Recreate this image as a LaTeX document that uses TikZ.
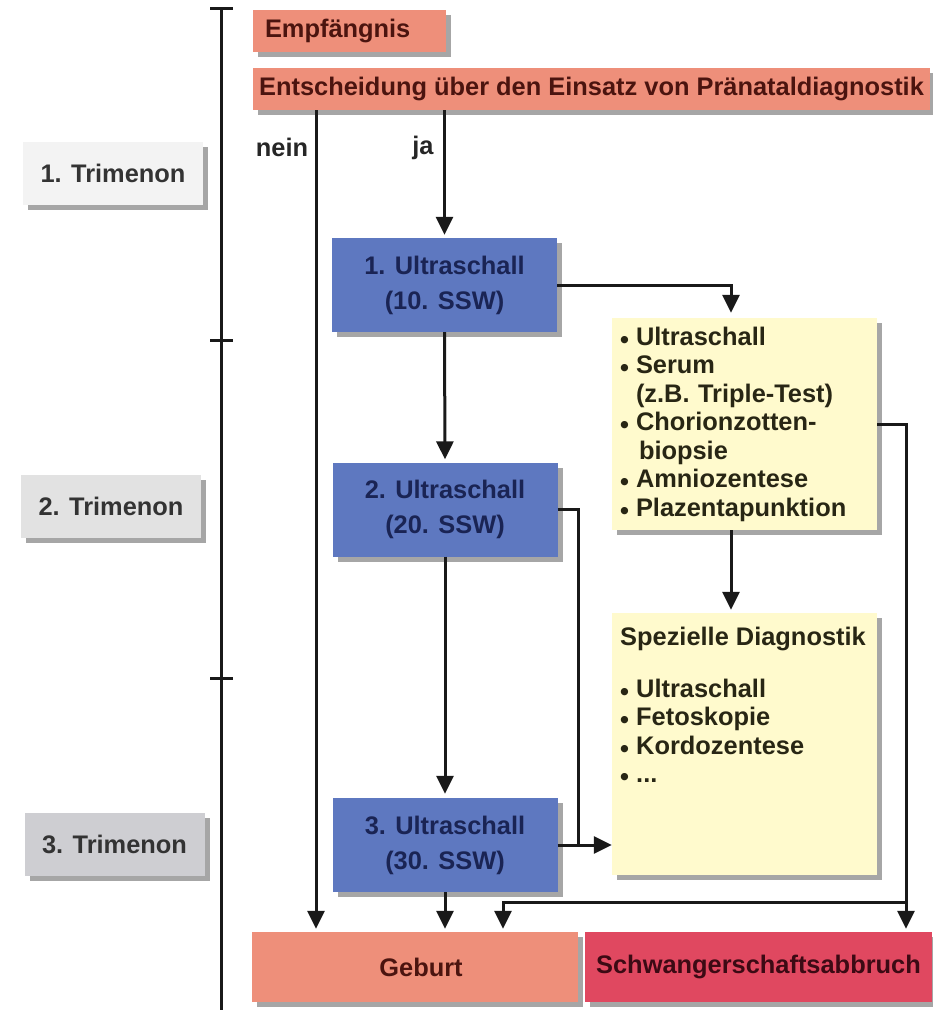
\documentclass[tikz,border=0pt]{standalone}
\usepackage{fontspec}
\usepackage{graphicx}
\setmainfont{Liberation Sans}
\usetikzlibrary{arrows.meta,shadows,calc}
\definecolor{salmon}{RGB}{238,143,122}
\definecolor{salmontext}{RGB}{75,20,15}
\definecolor{crimson}{RGB}{224,72,96}
\definecolor{crimsontext}{RGB}{60,10,20}
\definecolor{ublue}{RGB}{94,120,192}
\definecolor{ubluetext}{RGB}{26,36,84}
\definecolor{ylw}{RGB}{255,250,205}
\definecolor{ylwtext}{RGB}{40,38,20}
\definecolor{tri1}{RGB}{243,243,243}
\definecolor{tri2}{RGB}{226,226,226}
\definecolor{tri3}{RGB}{206,206,210}
\definecolor{linec}{RGB}{25,25,25}
\newcommand\bul{\makebox[16pt][l]{\raisebox{-3pt}{\scalebox{1.0}{\textbullet}}}}
\newcommand\ind{\hspace*{16pt}}
\newcommand\fs{\fontsize{25.4}{28.5}\selectfont\bfseries}
\newcommand\fsu{\fontsize{25.4}{35}\selectfont\bfseries}
\begin{document}
\begin{tikzpicture}[x=1pt,y=-1pt,
  base/.style={inner sep=0pt, align=center, font=\fs,
    drop shadow={shadow xshift=5pt,shadow yshift=-5pt,opacity=0.35,fill=black}},
  salmonbox/.style={base, fill=salmon, text=salmontext},
  abbbox/.style={base, fill=crimson, text=crimsontext},
  ubox/.style={base, fill=ublue, text=ubluetext, font=\fsu, minimum width=225pt, minimum height=94pt},
  tribox/.style={base, text=black!80, minimum width=180pt, minimum height=63pt},
  ybox/.style={base, fill=ylw, text=ylwtext, minimum width=265pt},
  lab/.style={inner sep=0pt, font=\fs, text=black!85},
  conn/.style={draw=linec, line width=3pt},
  arr/.style={conn, -{Triangle[length=18pt,width=17pt]}},
  tl/.style={draw=linec, line width=3pt}
]
\useasboundingbox (0,0) rectangle (933,1010);

% timeline
\coordinate (tltop) at (221,8);
\coordinate (tlbot) at (221,1010);
\draw[tl] (tltop) -- (tlbot);
\draw[tl] (210,8) -- (233,8);
\draw[tl] (210,340) -- (233,340);
\draw[tl] (210,678) -- (233,678);

% trimenon labels
\node[tribox, fill=tri1] (t1) at (113,173.5) {1. Trimenon};
\node[tribox, fill=tri2] (t2) at (111,506.5) {2. Trimenon};
\node[tribox, fill=tri3] (t3) at (114.5,844.5) {3. Trimenon};

% top boxes
\node[salmonbox, minimum width=193pt, minimum height=42pt, inner xsep=12pt, text width=169pt, align=left] (emp) at (349.5,31) {Empf\"angnis};
\node[salmonbox, minimum width=677pt, minimum height=42pt] (ent) at (591.5,89) {Entscheidung \"uber den Einsatz von Pr\"anataldiagnostik};

% ultrasound boxes
\node[ubox] (u1) at (444.5,285) {1. Ultraschall\\(10. SSW)};
\node[ubox] (u2) at (445,509.5) {2. Ultraschall\\(20. SSW)};
\node[ubox] (u3) at (445,845) {3. Ultraschall\\(30. SSW)};

% yellow boxes
\node[ybox, minimum height=212pt, text width=249pt, align=left, inner xsep=8pt] (y1) at (744.5,424) {%
\bul Ultraschall\\
\bul Serum\\
\ind (z.B. Triple-Test)\\
\bul Chorionzotten-\\
\ind\hspace*{3pt}biopsie\\
\bul Amniozentese\\
\bul Plazentapunktion};
\node[ybox, minimum height=262pt] (y2) at (744.5,744) {};
\node[lab, anchor=north west, align=left, text=ylwtext] (y2t) at (620,627) {%
Spezielle Diagnostik\\[23pt]
\bul Ultraschall\\
\bul Fetoskopie\\
\bul Kordozentese\\
\bul ...};

% bottom boxes
\node[salmonbox, minimum width=326pt, minimum height=70pt] (geb) at (415,967) {\hspace*{12pt}Geburt};
\node[abbbox, minimum width=347pt, minimum height=70pt] (abb) at (758.5,967) {Schwangerschaftsabbruch};

% labels
\node[lab] (nein) at (282,147) {nein};
\node[lab] (ja) at (423,148) {ja};

% connectors
\coordinate (nx) at (316,0);
\draw[arr, shorten >=3pt] (nx |- ent.south) -- (nx |- geb.north);
\draw[arr, shorten >=3pt] (u1.north |- ent.south) -- (u1.north);
\draw[arr, shorten >=3pt] (u1.south) -- (u2.north);
\draw[arr, shorten >=4pt] (u2.south) -- (u3.north);
\draw[arr, shorten >=3pt] (u3.south) -- (u3.south |- geb.north);
\coordinate (ax) at (731,0);
\draw[arr, shorten >=5pt] (u1.east) -| (ax |- y1.north);
\draw[arr, shorten >=3pt] (ax |- y1.south) -- (ax |- y2.north);
\coordinate (rx) at (906,0);
\draw[arr, shorten >=3pt] (y1.east) -| (rx |- abb.north);
\coordinate (bx) at (503,902);
\draw[arr, shorten >=3pt] (rx |- bx) -- (bx) -- (bx |- geb.north);
\coordinate (vx) at (578,0);
\draw[conn] (u2.east) -| (vx |- u3.east);
\draw[arr] (u3.east) -- (u3.east -| y2.west);
\end{tikzpicture}
\end{document}
